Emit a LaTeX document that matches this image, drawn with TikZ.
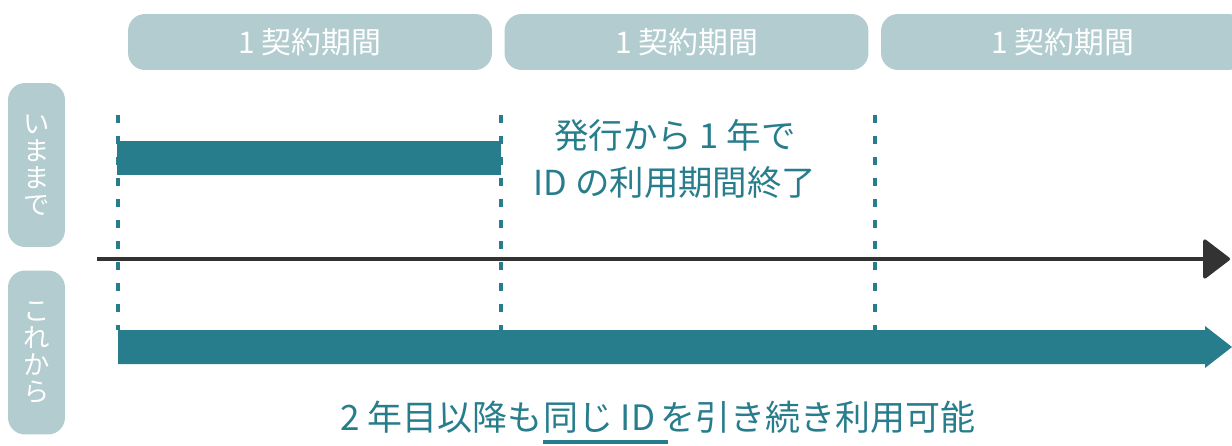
\documentclass[tikz,border=0pt]{standalone}
\usepackage{fontspec}
\setmainfont{Noto Sans CJK JP}
\usetikzlibrary{arrows.meta,positioning}

\definecolor{idteal}{HTML}{277D8C}
\definecolor{boxgray}{HTML}{B2CCCF}
\definecolor{axisgray}{HTML}{333333}

\tikzset{
  period/.style={fill=boxgray, rounded corners=0.34cm, minimum width=7.28cm,
    minimum height=1.12cm, text=white, font=\fontsize{17}{20}\selectfont},
  rowlabel/.style={fill=boxgray, rounded corners=0.34cm, minimum width=1.14cm,
    minimum height=3.28cm, text=white, align=center,
    font=\fontsize{15}{15.4}\selectfont},
  boundary/.style={idteal, line width=1.8pt, dash pattern=on 0.16cm off 0.26cm},
  note/.style={text=idteal, font=\fontsize{19.6}{27}\selectfont, align=center},
  keepnote/.style={note, font=\fontsize{19.9}{27}\selectfont, anchor=base west, inner sep=0pt},
}

\begin{document}
\begin{tikzpicture}[x=0.02cm, y=-0.02cm]
  \useasboundingbox (0,0) rectangle (1232,446);

  % contract periods
  \node[period] (p1) at (310,42) {1 契約期間};
  \node[period] (p2) at (686.5,42) {1 契約期間};
  \node[period] (p3) at (1063,42) {1 契約期間};

  \node[rowlabel] (before) at (36.5,165) {い\\ま\\ま\\で};
  \node[rowlabel] (after) at (36.5,352.5) {こ\\れ\\か\\ら};

  % period boundaries
  \coordinate (t0) at (118,115);
  \coordinate (t1) at (501,115);
  \coordinate (t2) at (875,115);
  \foreach \t in {t0,t1,t2}
    \draw[boundary] (\t) -- ++(0,215);

  \fill[idteal] (117,141) rectangle (501,175);

  \draw[axisgray, line width=1.9pt, line join=round,
    -{Triangle[length=0.56cm,width=0.84cm,round]}] (97,259) -- (1230,259);

  \fill[idteal] (118,330) -- (1205,330) -- (1205,326) -- (1232,347)
    -- (1205,368) -- (1205,364) -- (118,364) -- cycle;

  \node[note] (expiry) at (675,159) {発行から 1 年で\\ID の利用期間終了};

  \node[keepnote] (keep1) at (340,430) {2 年目以降も};
  \node[keepnote] (keep2) at (keep1.base east) {同じ ID};
  \coordinate (idend) at ([xshift=0.24cm]keep2.base east);
  \node[keepnote] (keep3) at ([xshift=0.1cm]keep2.base east) {を引き続き利用可能};
  \draw[idteal, line width=1.8pt] ([yshift=-0.24cm]keep2.base west) -- ([yshift=-0.24cm]idend);
\end{tikzpicture}
\end{document}
